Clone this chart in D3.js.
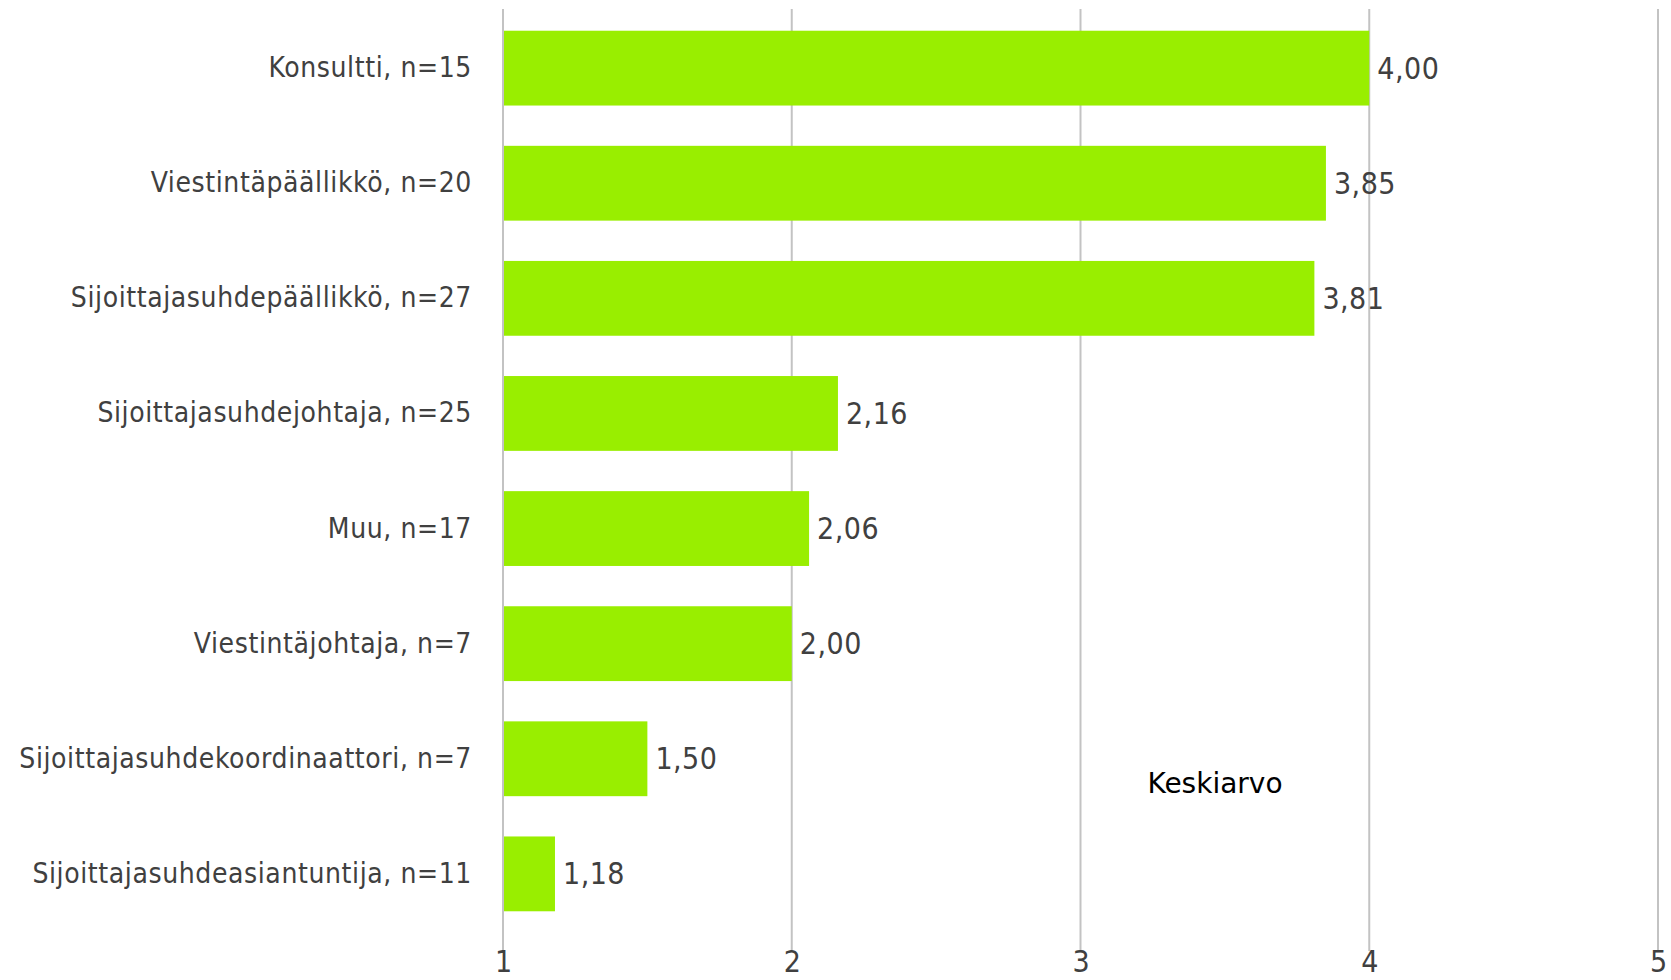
<!DOCTYPE html>
<html>
<head>
<meta charset="utf-8">
<script src="https://cdn.jsdelivr.net/npm/d3@7"></script>
<style>
  body { margin: 0; background: #fff; }
</style>
</head>
<body>
<div id="chart"></div>
<script>
const categories = [
  "Konsultti, n=15",
  "Viestintäpäällikkö, n=20",
  "Sijoittajasuhdepäällikkö, n=27",
  "Sijoittajasuhdejohtaja, n=25",
  "Muu, n=17",
  "Viestintäjohtaja, n=7",
  "Sijoittajasuhdekoordinaattori, n=7",
  "Sijoittajasuhdeasiantuntija, n=11"
];
const values = [4.00, 3.85, 3.81, 2.16, 2.06, 2.00, 1.50, 1.18];
const xTicks = [1, 2, 3, 4, 5];
const seriesName = "Keskiarvo";

const width = 1671,
      height = 980,
      margin = ({ top: 10, right: 13, bottom: 48, left: 503 });

const font = "'DejaVu Sans Condensed', 'DejaVu Sans', sans-serif";

const svg = d3.select("#chart")
  .append("svg")
  .attr("width", width)
  .attr("height", height);

const x = d3.scaleLinear()
  .domain([1, 5])
  .range([margin.left, width - margin.right]);

const y = d3.scaleBand()
  .domain(categories)
  .range([margin.top, 932])
  .paddingInner(0.35)
  .paddingOuter(0.18);

// vertical gridlines
svg.append("g")
  .selectAll("line")
  .data(xTicks)
  .join("line")
  .attr("x1", d => x(d))
  .attr("x2", d => x(d))
  .attr("y1", 9)
  .attr("y2", 951)
  .attr("stroke", "#c3c3c3")
  .attr("stroke-width", 2);

// x axis labels
const xAxis = svg.append("g")
  .attr("transform", `translate(0, ${951})`)
  .call(d3.axisBottom(x).tickValues(xTicks).tickSize(0).tickPadding(0).tickFormat(d3.format("d")));
xAxis.select(".domain").remove();
xAxis.selectAll("text")
  .attr("font-family", font)
  .attr("font-size", 30)
  .attr("fill", "#404040");

// bars
svg.append("g")
  .selectAll("rect")
  .data(values)
  .join("rect")
  .attr("x", x(1) + 1)
  .attr("y", (d, i) => y(categories[i]))
  .attr("width", d => x(d) - x(1) - 1)
  .attr("height", y.bandwidth())
  .attr("fill", "#99ee00");

// value labels
svg.append("g")
  .selectAll("text")
  .data(values)
  .join("text")
  .attr("x", d => x(d) + 8)
  .attr("y", (d, i) => y(categories[i]) + y.bandwidth() / 2)
  .attr("dy", "0.35em")
  .attr("font-family", font)
  .attr("font-size", 30)
  .attr("letter-spacing", 0.5)
  .attr("fill", "#404040")
  .text(d => d.toFixed(2).replace(".", ","));

// category labels
const yAxis = svg.append("g")
  .attr("transform", `translate(${margin.left - 31}, 0)`)
  .call(d3.axisLeft(y).tickSize(0).tickPadding(0));
yAxis.select(".domain").remove();
yAxis.selectAll("text")
  .attr("font-family", font)
  .attr("font-size", 28)
  .attr("letter-spacing", 0.6)
  .attr("fill", "#404040");

// series label
svg.append("text")
  .attr("x", 1215)
  .attr("y", 783)
  .attr("dy", "0.35em")
  .attr("text-anchor", "middle")
  .attr("font-family", "'DejaVu Sans', sans-serif")
  .attr("font-size", 28)
  .attr("fill", "#000")
  .text(seriesName);
</script>
</body>
</html>
